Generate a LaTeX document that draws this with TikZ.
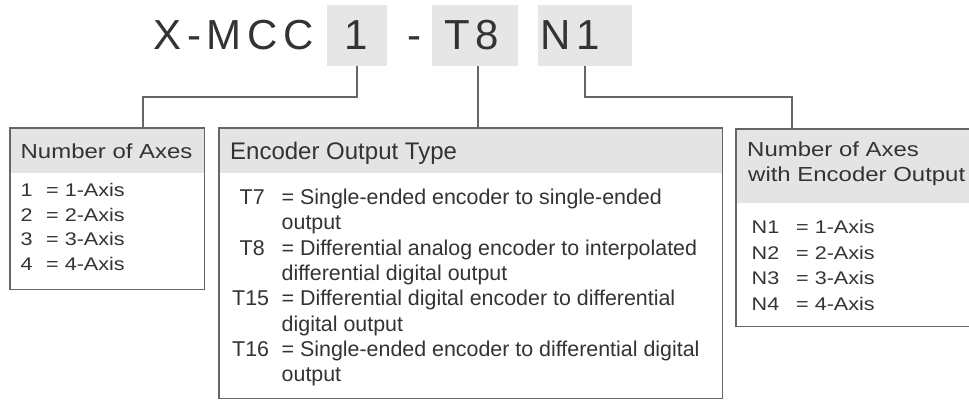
\documentclass[tikz,border=0pt]{standalone}
\usepackage{fontspec}
\setmainfont{Liberation Sans}
\newfontfamily\widefont{Liberation Sans}[FakeStretch=1.18]
\newfontfamily\titlefont{Liberation Sans}[LetterSpace=14]
\definecolor{linegray}{HTML}{666666}
\definecolor{fillgray}{HTML}{E6E6E6}
\definecolor{hdrgray}{HTML}{E4E4E4}
\definecolor{textdark}{HTML}{333333}
\begin{document}
\begin{tikzpicture}[x=1pt,y=-1pt,
  codebox/.style={fill=fillgray, inner sep=0pt, anchor=north west},
  titletxt/.style={inner sep=0pt, anchor=base west, text=textdark, font=\titlefont\fontsize{42}{48}\selectfont},
  frame/.style={draw=linegray, line width=1.5pt},
  conn/.style={draw=linegray, line width=1.5pt},
  wideh/.style={inner sep=0pt, anchor=base west, text=textdark, font=\widefont\fontsize{20.3}{24}\selectfont},
  wideb/.style={inner sep=0pt, anchor=base west, text=textdark, font=\widefont\fontsize{18.3}{22}\selectfont},
  midh/.style={inner sep=0pt, anchor=base west, text=textdark, font=\fontsize{24}{28}\selectfont},
  midb/.style={inner sep=0pt, anchor=base west, text=textdark, font=\fontsize{21.4}{25}\selectfont},
  boxnode/.style={inner sep=0pt, anchor=north west}]
\useasboundingbox (0,0) rectangle (969,401);
\fill[white] (0,0) rectangle (969,401);

% code boxes
\node[codebox, minimum width=60pt, minimum height=61pt] (c1) at (327,5) {};
\node[codebox, minimum width=86pt, minimum height=61pt] (c2) at (432,5) {};
\node[codebox, minimum width=94pt, minimum height=61pt] (c3) at (538,5) {};

% title text
\node[titletxt] (tx) at (153,49.5) {X-MCC};
\node[titletxt, anchor=base] (t1) at (356.5,49.5) {1};
\node[titletxt, anchor=base] (tdash) at (414,49.5) {-};
\node[titletxt] (t2) at (444,49.5) {T8};
\node[titletxt] (t3) at (540,49.5) {N1};

% boxes
\node[boxnode, minimum width=194pt, minimum height=161pt] (b1) at (10,128) {};
\node[boxnode, minimum width=503pt, minimum height=270pt] (b2) at (219,128) {};
\node[boxnode, minimum width=243pt, minimum height=197pt] (b3) at (736,129) {};

\fill[hdrgray] (b1.north west) rectangle (b1.north east |- 0,173);
\fill[hdrgray] (b2.north west) rectangle (b2.north east |- 0,173);
\fill[hdrgray] (b3.north west) rectangle (b3.north east |- 0,203);
\draw[frame] (b1.north west) rectangle (b1.south east);
\draw[frame] (b2.north west) rectangle (b2.south east);
\draw[frame] (b3.north west) rectangle (b3.south east);

% connectors
\coordinate (j1) at (143,97);
\coordinate (j3) at (792,97);
\draw[conn] (c1.south) |- (j1) -- (j1 |- b1.north);
\draw[conn] ([xshift=3pt]c2.south) -- ([xshift=3pt]c2.south |- b2.north);
\draw[conn] (c3.south) |- (j3) -- (j3 |- b3.north);

% box 1
\node[wideh] (h1) at (20.5,158) {Number of Axes};
\foreach \i/\d in {0/1,1/2,2/3,3/4} {
  \node[wideb] (a\i) at (20.5,196.5+24.7*\i) {\d};
  \node[wideb] (ad\i) at (46,196.5+24.7*\i) {= \d-Axis};
}

% box 2
\node[midh] (h2) at (230,160) {Encoder Output Type};
\node[midb] (k1) at (239.5,204.5) {T7};
\node[midb] (e1) at (281.5,204.5) {= Single-ended encoder to single-ended};
\node[midb] (e1b) at (281.5,229.8) {output};
\node[midb] (k2) at (239.5,255.1) {T8};
\node[midb] (e2) at (281.5,255.1) {= Differential analog encoder to interpolated};
\node[midb] (e2b) at (281.5,280.4) {differential digital output};
\node[midb] (k3) at (232,305.7) {T15};
\node[midb] (e3) at (281.5,305.7) {= Differential digital encoder to differential};
\node[midb] (e3b) at (281.5,331) {digital output};
\node[midb] (k4) at (232,356.3) {T16};
\node[midb] (e4) at (281.5,356.3) {= Single-ended encoder to differential digital};
\node[midb] (e4b) at (281.5,381.6) {output};

% box 3
\node[wideh] (h3a) at (747,157) {Number of Axes};
\node[wideh] (h3b) at (748,182) {with Encoder Output};
\foreach \i/\d in {0/1,1/2,2/3,3/4} {
  \node[wideb] (n\i) at (751.5,233.5+25.5*\i) {N\d};
  \node[wideb] (nd\i) at (796,233.5+25.5*\i) {= \d-Axis};
}
\end{tikzpicture}
\end{document}
